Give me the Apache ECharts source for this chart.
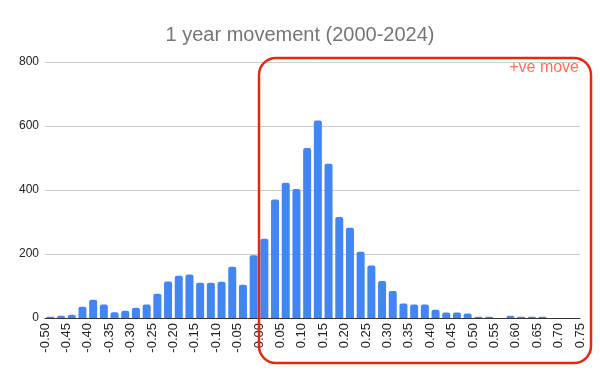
<!DOCTYPE html>
<html>
<head>
<meta charset="utf-8">
<script src="https://cdn.jsdelivr.net/npm/echarts@6/dist/echarts.min.js"></script>
<style>html,body{margin:0;padding:0;background:#fff;}#c{width:600px;height:371px;}</style>
</head>
<body>
<div id="c"></div>
<script>
const title = '1 year movement (2000-2024)';
const annotation = '+ve move';
const binWidth = 0.025;
const bucketStart = [
  -0.500,-0.475,-0.450,-0.425,-0.400,-0.375,-0.350,-0.325,-0.300,-0.275,
  -0.250,-0.225,-0.200,-0.175,-0.150,-0.125,-0.100,-0.075,-0.050,-0.025,
   0.000, 0.025, 0.050, 0.075, 0.100, 0.125, 0.150, 0.175, 0.200, 0.225,
   0.250, 0.275, 0.300, 0.325, 0.350, 0.375, 0.400, 0.425, 0.450, 0.475,
   0.500, 0.525, 0.550, 0.575, 0.600, 0.625, 0.650, 0.675, 0.700, 0.725
];
const counts = [
  4, 7, 10, 35, 57, 42, 18, 23, 32, 42,
  76, 114, 132, 136, 110, 110, 113, 160, 104, 196,
  248, 370, 423, 403, 531, 617, 482, 316, 282, 207,
  164, 116, 84, 45, 42, 42, 26, 17, 17, 14,
  4, 4, 0, 7, 4, 4, 4, 0, 0, 0
];
const xMin = -0.5, xMax = 0.75, xStep = 0.05;
const yMin = 0, yMax = 800, yStep = 200;

const chart = echarts.init(document.getElementById('c'), null, {renderer: 'canvas'});
const font = 'Liberation Sans, Arial, sans-serif';
chart.setOption({
  animation: false,
  title: {
    text: title, left: 'center', top: 20,
    textStyle: {fontFamily: font, fontSize: 20, fontWeight: 'normal', color: '#757575'}
  },
  grid: {left: 45, right: 20, top: 62, bottom: 53, containLabel: false},
  xAxis: {
    type: 'value', min: xMin, max: xMax, interval: xStep,
    axisLine: {show: true, onZero: false, lineStyle: {color: '#333', width: 1}},
    axisTick: {show: false},
    splitLine: {show: false},
    axisLabel: {
      rotate: 90, margin: 5, fontFamily: font, fontSize: 13, color: '#222',
      showMinLabel: true, showMaxLabel: true,
      formatter: v => (Math.abs(v) < 1e-9 ? 0 : v).toFixed(2)
    }
  },
  yAxis: {
    type: 'value', min: yMin, max: yMax, interval: yStep,
    axisLine: {show: false}, axisTick: {show: false},
    splitLine: {lineStyle: {color: '#cccccc', width: 1}},
    axisLabel: {fontFamily: font, fontSize: 12, color: '#222', margin: 6}
  },
  series: [{
    type: 'bar',
    barWidth: 8,
    data: bucketStart.map((s, i) => [s + binWidth / 2, counts[i]]),
    itemStyle: {color: '#4285f4', borderRadius: [2, 2, 0, 0]}
  }],
  graphic: [
    {
      type: 'rect', z: 100,
      shape: {x: 259, y: 58, width: 332, height: 305, r: 17},
      style: {fill: 'none', stroke: '#e8280c', lineWidth: 2.5}
    },
    {
      type: 'text', z: 100, right: 21, top: 60,
      style: {text: annotation, fill: '#ff6f5a', font: '16px Liberation Sans, Arial, sans-serif'}
    }
  ]
});
</script>
</body>
</html>
